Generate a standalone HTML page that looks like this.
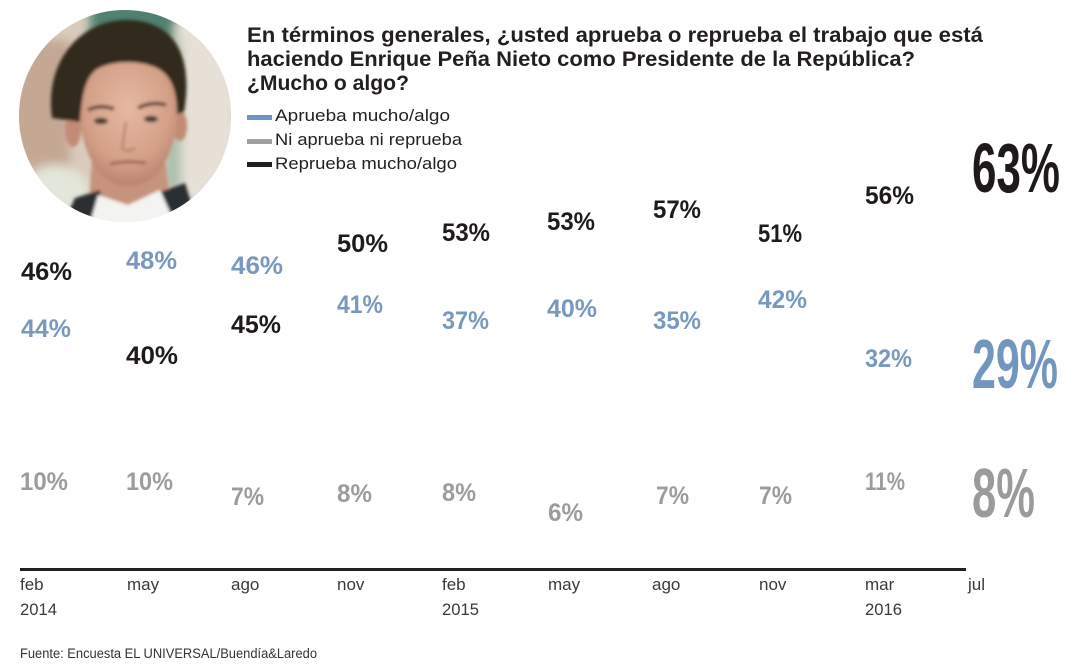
<!DOCTYPE html>
<html><head><meta charset="utf-8"><style>
html,body{margin:0;padding:0;background:#fff;}
svg{display:block;}
text{font-family:"Liberation Sans",sans-serif;}
.t{font-size:21px;font-weight:bold;fill:#231f20;}
.lg{font-size:17px;fill:#231f20;}
.d{font-size:25px;font-weight:bold;}
.k{fill:#1f1b1b;}
.b{fill:#7899bf;}
.g{fill:#9c9c9c;}
.ax{font-size:17px;fill:#3a3a3a;}
.big{font-size:70px;font-weight:bold;}
</style></head><body>
<svg width="1081" height="666" viewBox="0 0 1081 666" xmlns="http://www.w3.org/2000/svg">
<defs>
<clipPath id="c"><circle cx="125" cy="116" r="106"/></clipPath>
<filter id="bl" x="-20%" y="-20%" width="140%" height="140%"><feGaussianBlur stdDeviation="5"/></filter>
<filter id="bl2" x="-20%" y="-20%" width="140%" height="140%"><feGaussianBlur stdDeviation="1.5"/></filter>
<radialGradient id="skin" cx="0.5" cy="0.4" r="0.6">
<stop offset="0" stop-color="#e6b9a2"/><stop offset="0.7" stop-color="#d49f87"/><stop offset="1" stop-color="#b98370"/>
</radialGradient>
</defs>
<rect width="1081" height="666" fill="#fff"/>

<!-- photo -->
<g clip-path="url(#c)">
<rect x="15" y="5" width="225" height="225" fill="#d9cbbd"/>
<g filter="url(#bl)">
<rect x="10" y="40" width="60" height="160" fill="#c4a894"/>
<rect x="90" y="0" width="95" height="50" fill="#4f8170"/>
<rect x="175" y="20" width="60" height="200" fill="#e7e0d6"/>
<rect x="165" y="40" width="16" height="150" fill="#a9c0ae"/>
<ellipse cx="55" cy="195" rx="35" ry="30" fill="#e3e6da"/>
</g>
<g filter="url(#bl2)">
<!-- neck -->
<path d="M92 160 L165 160 L172 215 L88 215 Z" fill="#c8937d"/>
<!-- suit -->
<path d="M60 230 L75 198 L100 190 L105 230 Z" fill="#2b2d33"/>
<path d="M150 230 L160 192 L185 183 L200 230 Z" fill="#2b2d33"/>
<!-- shirt -->
<path d="M88 230 L98 195 L128 205 L160 190 L178 230 Z" fill="#f3f3f1"/>
<!-- ears -->
<ellipse cx="73" cy="130" rx="8" ry="17" fill="#c38b76"/>
<ellipse cx="180" cy="126" rx="7" ry="15" fill="#c38b76"/>
<!-- face -->
<path d="M78 100 C78 62 102 56 128 56 C160 56 178 70 178 102 C178 150 160 186 128 186 C98 186 80 152 78 100 Z" fill="url(#skin)"/>
<!-- hair -->
<path d="M52 118 C44 58 84 18 130 20 C172 22 194 52 184 112 L177 114 C177 88 170 72 152 66 C134 60 112 61 97 69 C86 77 82 92 80 122 Z" fill="#33291f"/>
<!-- brows -->
<path d="M88 110 Q100 104 114 109" stroke="#5a4236" stroke-width="3.5" fill="none"/>
<path d="M138 108 Q152 101 166 105" stroke="#5a4236" stroke-width="3.5" fill="none"/>
<!-- eyes -->
<ellipse cx="101" cy="121" rx="7" ry="3.2" fill="#4a3a33"/>
<ellipse cx="151" cy="119" rx="7" ry="3.2" fill="#4a3a33"/>
<!-- nose -->
<path d="M126 122 L122 148 Q128 153 135 148" stroke="#b07c69" stroke-width="2" fill="none"/>
<!-- mouth -->
<path d="M110 164 Q127 160 146 163" stroke="#9d6357" stroke-width="3" fill="none"/>
</g>
</g>

<!-- title -->
<text class="t" x="247" y="42" textLength="736" lengthAdjust="spacingAndGlyphs">En términos generales, ¿usted aprueba o reprueba el trabajo que está</text>
<text class="t" x="247" y="66" textLength="668" lengthAdjust="spacingAndGlyphs">haciendo Enrique Peña Nieto como Presidente de la República?</text>
<text class="t" x="247" y="90" textLength="162" lengthAdjust="spacingAndGlyphs">¿Mucho o algo?</text>

<!-- legend -->
<rect x="247" y="115" width="25" height="5" fill="#6f95c3"/>
<rect x="247" y="139" width="25" height="5" fill="#a0a0a0"/>
<rect x="247" y="162" width="25" height="5" fill="#231f20"/>
<text class="lg" x="275" y="121" textLength="175" lengthAdjust="spacingAndGlyphs">Aprueba mucho/algo</text>
<text class="lg" x="275" y="145" textLength="187" lengthAdjust="spacingAndGlyphs">Ni aprueba ni reprueba</text>
<text class="lg" x="275" y="169" textLength="182" lengthAdjust="spacingAndGlyphs">Reprueba mucho/algo</text>

<!-- data labels -->
<g class="d">
<text class="k" x="21" y="280" textLength="51" lengthAdjust="spacingAndGlyphs">46%</text>
<text class="b" x="21" y="337" textLength="50" lengthAdjust="spacingAndGlyphs">44%</text>
<text class="g" x="20" y="490" textLength="48" lengthAdjust="spacingAndGlyphs">10%</text>

<text class="b" x="126" y="269" textLength="51" lengthAdjust="spacingAndGlyphs">48%</text>
<text class="k" x="126" y="364" textLength="52" lengthAdjust="spacingAndGlyphs">40%</text>
<text class="g" x="126" y="490" textLength="47" lengthAdjust="spacingAndGlyphs">10%</text>

<text class="b" x="231" y="274" textLength="52" lengthAdjust="spacingAndGlyphs">46%</text>
<text class="k" x="231" y="333" textLength="50" lengthAdjust="spacingAndGlyphs">45%</text>
<text class="g" x="231" y="505" textLength="33" lengthAdjust="spacingAndGlyphs">7%</text>

<text class="k" x="337" y="252" textLength="51" lengthAdjust="spacingAndGlyphs">50%</text>
<text class="b" x="337" y="313" textLength="46" lengthAdjust="spacingAndGlyphs">41%</text>
<text class="g" x="337" y="502" textLength="35" lengthAdjust="spacingAndGlyphs">8%</text>

<text class="k" x="442" y="241" textLength="48" lengthAdjust="spacingAndGlyphs">53%</text>
<text class="b" x="442" y="329" textLength="47" lengthAdjust="spacingAndGlyphs">37%</text>
<text class="g" x="442" y="501" textLength="34" lengthAdjust="spacingAndGlyphs">8%</text>

<text class="k" x="547" y="230" textLength="48" lengthAdjust="spacingAndGlyphs">53%</text>
<text class="b" x="547" y="317" textLength="50" lengthAdjust="spacingAndGlyphs">40%</text>
<text class="g" x="548" y="521" textLength="35" lengthAdjust="spacingAndGlyphs">6%</text>

<text class="k" x="653" y="218" textLength="48" lengthAdjust="spacingAndGlyphs">57%</text>
<text class="b" x="653" y="329" textLength="48" lengthAdjust="spacingAndGlyphs">35%</text>
<text class="g" x="656" y="504" textLength="33" lengthAdjust="spacingAndGlyphs">7%</text>

<text class="k" x="758" y="242" textLength="44" lengthAdjust="spacingAndGlyphs">51%</text>
<text class="b" x="758" y="308" textLength="49" lengthAdjust="spacingAndGlyphs">42%</text>
<text class="g" x="759" y="504" textLength="33" lengthAdjust="spacingAndGlyphs">7%</text>

<text class="k" x="865" y="204" textLength="49" lengthAdjust="spacingAndGlyphs">56%</text>
<text class="b" x="865" y="367" textLength="47" lengthAdjust="spacingAndGlyphs">32%</text>
<text class="g" x="865" y="490" textLength="40" lengthAdjust="spacingAndGlyphs">11%</text>
</g>

<!-- big numbers -->
<text class="big" x="972" y="192" fill="#1e1a1a" textLength="88" lengthAdjust="spacingAndGlyphs">63%</text>
<text class="big" x="972" y="388" fill="#7396be" textLength="86" lengthAdjust="spacingAndGlyphs">29%</text>
<text class="big" x="972" y="517" fill="#9b9b9b" textLength="63" lengthAdjust="spacingAndGlyphs">8%</text>

<!-- axis -->
<rect x="20" y="568" width="946" height="3" fill="#231f20"/>
<g class="ax">
<text x="20" y="590">feb</text><text x="20" y="615" textLength="37" lengthAdjust="spacingAndGlyphs">2014</text>
<text x="127" y="590">may</text>
<text x="231" y="590">ago</text>
<text x="337" y="590">nov</text>
<text x="442" y="590">feb</text><text x="442" y="615" textLength="37" lengthAdjust="spacingAndGlyphs">2015</text>
<text x="548" y="590">may</text>
<text x="652" y="590">ago</text>
<text x="759" y="590">nov</text>
<text x="865" y="590">mar</text><text x="865" y="615" textLength="37" lengthAdjust="spacingAndGlyphs">2016</text>
<text x="968" y="590">jul</text>
</g>

<!-- footer -->
<text x="20" y="658" font-size="13.5" fill="#333" textLength="297" lengthAdjust="spacingAndGlyphs">Fuente: Encuesta EL UNIVERSAL/Buendía&amp;Laredo</text>
</svg>
</body></html>
